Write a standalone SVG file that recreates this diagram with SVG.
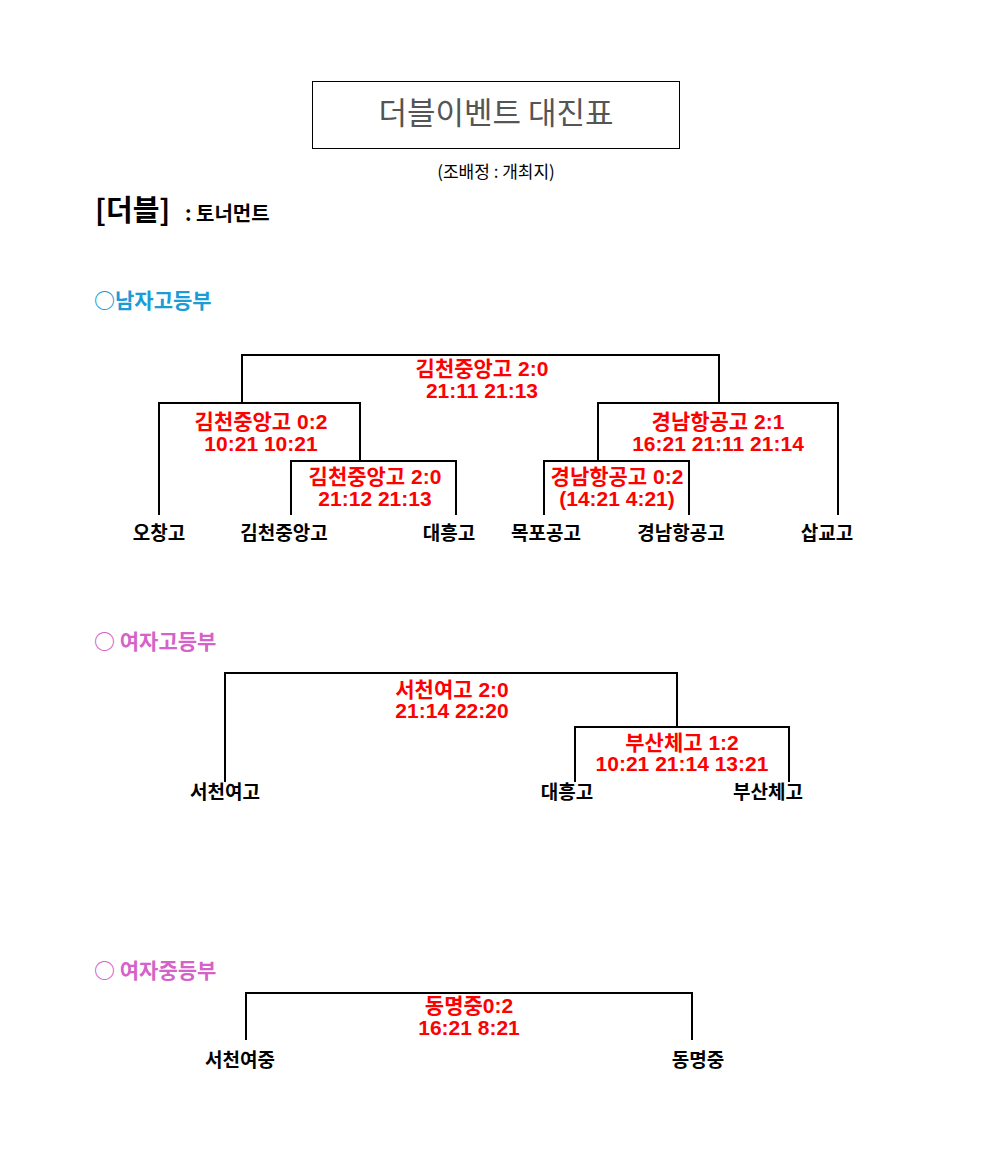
<svg xmlns="http://www.w3.org/2000/svg" width="992" height="1161" viewBox="0 0 992 1161">
<style>
.l{fill:none;stroke:#000;stroke-width:2}
.t{font-family:"Noto Sans CJK KR","Liberation Sans",sans-serif;font-weight:bold;font-size:19px;text-anchor:middle;fill:#000}
.s{font-family:"Liberation Sans","Noto Sans CJK KR",sans-serif;font-weight:bold;font-size:21px;text-anchor:middle;fill:#f00}
.h{font-family:"Noto Sans CJK KR",sans-serif;font-weight:bold;font-size:21px}
</style>
<rect width="992" height="1161" fill="#fff"/>
<g id="title"><rect x="312.5" y="81.5" width="367" height="67" fill="none" stroke="#000" stroke-width="1"/>
<text x="496" y="124" font-family="Noto Sans CJK KR,sans-serif" font-size="31" fill="#555" text-anchor="middle">더블이벤트 대진표</text>
<text x="496" y="178" font-family="Noto Sans CJK KR,sans-serif" font-size="17" fill="#000" text-anchor="middle">(조배정 : 개최지)</text></g>
<text x="95" y="221" font-family="Noto Sans CJK KR,sans-serif" font-weight="bold" font-size="29">[더블]</text>
<text x="185" y="221" font-family="Noto Sans CJK KR,sans-serif" font-weight="bold" font-size="20">: 토너먼트</text>
<text x="94" y="308" class="h" fill="#1a9cd6">○남자고등부</text>
<text x="94" y="649" class="h" fill="#d462c8">○ 여자고등부</text>
<text x="94" y="978" class="h" fill="#d462c8">○ 여자중등부</text>
<g id="connectors">
<path class="l" d="M242 403V355H719V403M159 515V403H360V461M291 515V461H456V515M838 515V403H598V461M544 515V461H689V515"/>
<path class="l" d="M225 782V673H677V727M575 782V727H789V782"/>
<path class="l" d="M246 1040V993H692V1040"/>
</g>
<g id="scores">
<text class="s" x="482" y="376">김천중앙고 2:0</text><text class="s" x="482" y="398">21:11 21:13</text>
<text class="s" x="261" y="429">김천중앙고 0:2</text><text class="s" x="261" y="451">10:21 10:21</text>
<text class="s" x="375" y="484">김천중앙고 2:0</text><text class="s" x="375" y="506">21:12 21:13</text>
<text class="s" x="718" y="429">경남항공고 2:1</text><text class="s" x="718" y="451">16:21 21:11 21:14</text>
<text class="s" x="617" y="484">경남항공고 0:2</text><text class="s" x="617" y="506">(14:21 4:21)</text>
<text class="s" x="452" y="697" font-size="19">서천여고 2:0</text><text class="s" x="452" y="718" font-size="19">21:14 22:20</text>
<text class="s" x="682" y="750" font-size="19">부산체고 1:2</text><text class="s" x="682" y="771" font-size="19">10:21 21:14 13:21</text>
<text class="s" x="469" y="1013">동명중0:2</text><text class="s" x="469" y="1035">16:21 8:21</text>
</g>
<g id="n1"><text class="t" x="159" y="540">오창고</text></g>
<g id="n2"><text class="t" x="284" y="540">김천중앙고</text></g>
<g id="n3"><text class="t" x="449" y="540">대흥고</text></g>
<g id="n4"><text class="t" x="546" y="540">목포공고</text></g>
<g id="n5"><text class="t" x="681" y="540">경남항공고</text></g>
<g id="n6"><text class="t" x="827" y="540">삽교고</text></g>
<g id="n7"><text class="t" x="225" y="799">서천여고</text></g>
<g id="n8"><text class="t" x="567" y="799">대흥고</text></g>
<g id="n9"><text class="t" x="768" y="799">부산체고</text></g>
<g id="n10"><text class="t" x="240" y="1067">서천여중</text></g>
<g id="n11"><text class="t" x="698" y="1067">동명중</text></g>
</svg>
